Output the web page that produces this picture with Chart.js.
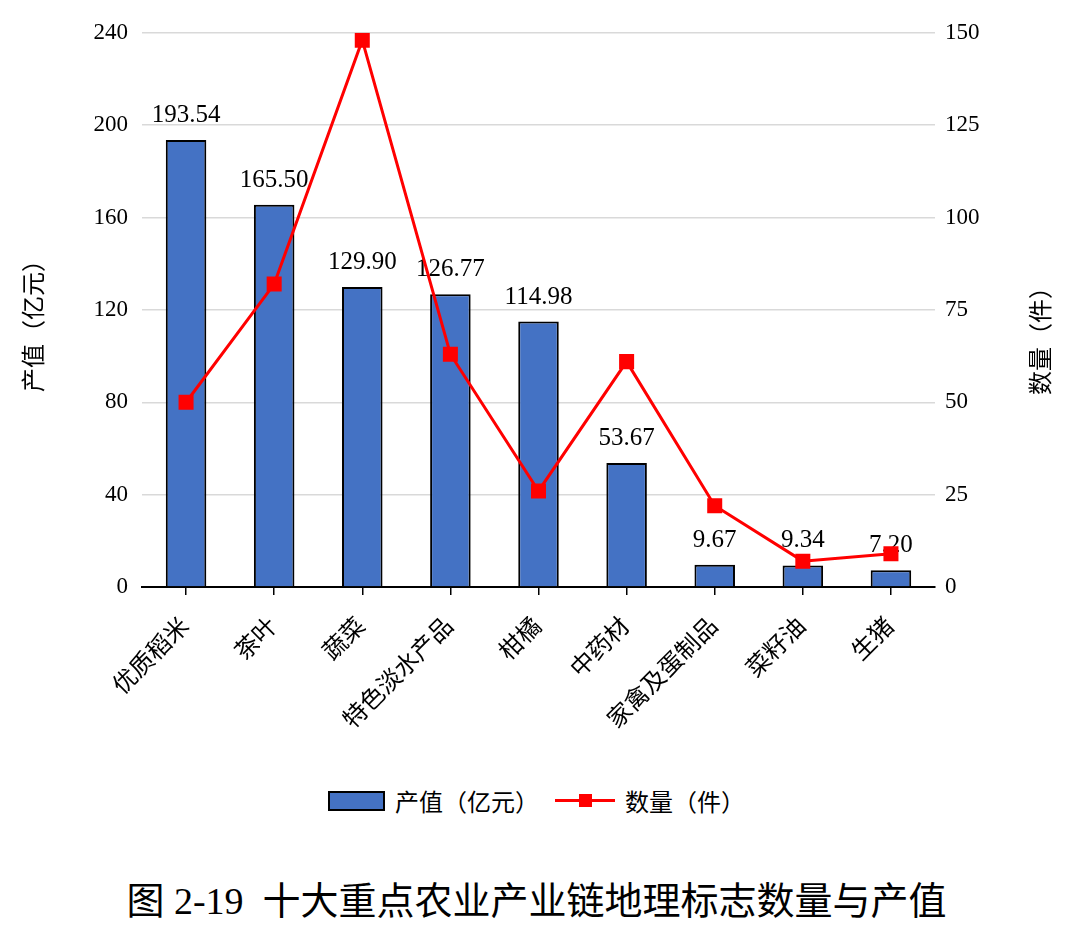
<!DOCTYPE html>
<html>
<head>
<meta charset="utf-8">
<script src="https://cdn.jsdelivr.net/npm/chart.js@4.4.1/dist/chart.umd.min.js"></script>
<style>
    body { margin: 0; background: #fff; font-family: "Liberation Serif", "Noto Sans CJK SC", serif; }
    #wrap { position: relative; width: 1073px; height: 943px; }
    #chartBox { position: absolute; left: 0; top: 5px; width: 1073px; height: 775px; }
    #legend { position: absolute; left: 0; top: 783px; width: 1073px; display: flex; justify-content: center; align-items: center; font-size: 24px; color: #000; }
    .item { display: flex; align-items: center; }
    .barBox { width: 53px; height: 16px; background: #4472C4; border: 2px solid #000; margin-right: 10px; }
    .lineBox { position: relative; width: 60px; height: 20px; margin: 0 10px 0 16px; }
    .lineBox .ln { position: absolute; left: 0; right: 0; top: 8px; height: 3px; background: #FF0000; }
    .lineBox .mk { position: absolute; left: 24px; top: 3px; width: 13px; height: 13px; background: #FF0000; }
    #caption { position: absolute; left: 0; top: 870px; width: 1073px; text-align: center; font-size: 38px; color: #000; }
</style>
</head>
<body>
<div id="wrap">
    <div id="chartBox"><canvas id="comboChart"></canvas></div>
    <div id="legend"></div>
    <div id="caption">图 2-19&nbsp; 十大重点农业产业链地理标志数量与产值</div>
</div>
<script>
    var categories = ['优质稻米', '茶叶', '蔬菜', '特色淡水产品', '柑橘', '中药材', '家禽及蛋制品', '菜籽油', '生猪'];
    var outputValues = [193.54, 165.50, 129.90, 126.77, 114.98, 53.67, 9.67, 9.34, 7.20];
    var countValues = [50, 82, 148, 63, 26, 61, 22, 7, 9];
    var outputLabel = '产值（亿元）';
    var countLabel = '数量（件）';

    var fontFamily = '"Liberation Serif", "Noto Sans CJK SC", serif';

    // value labels over the bars, drawn before the line so the line sits on top
    var barLabels = {
        id: 'barLabels',
        afterDatasetDraw: function(chart, args) {
            if (args.index !== 0) return;
            var ctx = chart.ctx;
            ctx.save();
            ctx.font = '25px ' + fontFamily;
            ctx.fillStyle = '#000';
            ctx.textAlign = 'center';
            ctx.textBaseline = 'bottom';
            args.meta.data.forEach(function(bar, i) {
                ctx.fillText(outputValues[i].toFixed(2), bar.x, bar.y - 12);
            });
            ctx.restore();
        }
    };

    // both axis titles read bottom-to-top, like the original
    var axisTitles = {
        id: 'axisTitles',
        afterDraw: function(chart) {
            var ctx = chart.ctx;
            var area = chart.chartArea;
            var mid = (area.top + area.bottom) / 2;
            ctx.save();
            ctx.font = '24px ' + fontFamily;
            ctx.fillStyle = '#000';
            ctx.textAlign = 'center';
            ctx.textBaseline = 'middle';
            ctx.translate(36, mid + 10);
            ctx.rotate(-Math.PI / 2);
            ctx.fillText(outputLabel, 0, 0);
            ctx.restore();
            ctx.save();
            ctx.font = '24px ' + fontFamily;
            ctx.fillStyle = '#000';
            ctx.textAlign = 'center';
            ctx.textBaseline = 'middle';
            ctx.translate(1043, mid + 25);
            ctx.rotate(-Math.PI / 2);
            ctx.fillText(countLabel, 0, 0);
            ctx.restore();
        }
    };

    var ctx = document.getElementById('comboChart').getContext('2d');
    var comboChart = new Chart(ctx, {
        data: {
            labels: categories,
            datasets: [{
                type: 'bar',
                label: outputLabel,
                data: outputValues,
                yAxisID: 'y',
                backgroundColor: '#4472C4',
                borderColor: '#000',
                borderWidth: 2,
                categoryPercentage: 1,
                barPercentage: 0.46,
                order: 1
            }, {
                type: 'line',
                label: countLabel,
                data: countValues,
                yAxisID: 'y1',
                borderColor: '#FF0000',
                backgroundColor: '#FF0000',
                borderWidth: 3,
                pointStyle: 'rect',
                pointRadius: 8.5,
                pointHoverRadius: 8.5,
                tension: 0,
                order: 0
            }]
        },
        options: {
            responsive: true,
            maintainAspectRatio: false,
            animation: false,
            layout: { padding: { top: 25, bottom: 0, left: 0, right: 0 } },
            plugins: {
                legend: { display: false },
                tooltip: { enabled: false }
            },
            scales: {
                x: {
                    offset: true,
                    grid: { display: true, drawOnChartArea: false, offset: false, tickLength: 8, color: '#000', lineWidth: 1.5 },
                    border: { display: true, color: '#000', width: 2 },
                    ticks: {
                        color: '#000',
                        font: { family: fontFamily, size: 24 },
                        maxRotation: 45,
                        minRotation: 45,
                        padding: 18
                    },
                    afterFit: function(scale) { scale.height = 193; }
                },
                y: {
                    position: 'left',
                    min: 0,
                    max: 240,
                    ticks: { stepSize: 40, color: '#000', font: { family: fontFamily, size: 23 }, padding: 14 },
                    grid: { color: '#D9D9D9', lineWidth: 1.5, drawTicks: false },
                    border: { display: false },
                    afterFit: function(scale) { scale.width = 142; }
                },
                y1: {
                    position: 'right',
                    min: 0,
                    max: 150,
                    ticks: { stepSize: 25, color: '#000', font: { family: fontFamily, size: 23 }, padding: 10 },
                    grid: { drawOnChartArea: false, drawTicks: false },
                    border: { display: false },
                    afterFit: function(scale) { scale.width = 138; }
                }
            }
        },
        plugins: [barLabels, axisTitles]
    });

    // legend built from the dataset labels
    var legendHtml = '<div class="item"><div class="barBox"></div><span>' + outputLabel + '</span></div>' +
        '<div class="item"><div class="lineBox"><div class="ln"></div><div class="mk"></div></div><span>' + countLabel + '</span></div>';
    document.getElementById('legend').innerHTML = legendHtml;
</script>
</body>
</html>
